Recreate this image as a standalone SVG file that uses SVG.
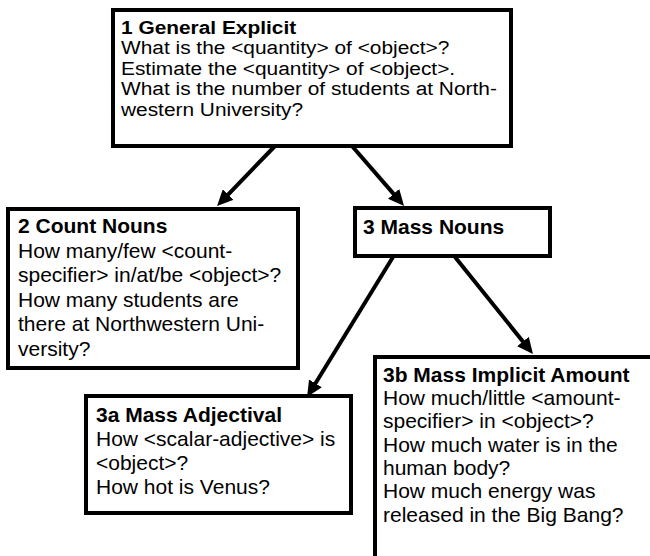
<svg xmlns="http://www.w3.org/2000/svg" width="650" height="556" viewBox="0 0 650 556">
<style>
.box{fill:#fff;stroke:#000;stroke-width:4}
text{font-family:"Liberation Sans",Arial,sans-serif;font-size:21px;fill:#000}
.s text{font-size:18px}
.t{font-weight:bold}
.edge{stroke:#000;stroke-width:4;fill:none;marker-end:url(#ah)}
</style>
<defs>
<marker id="ah" markerUnits="userSpaceOnUse" markerWidth="16" markerHeight="15" viewBox="0 0 16 15" refX="6" refY="7.5" orient="auto">
<path d="M0,0 L16,7.5 L0,15 z" fill="#000"/>
</marker>
</defs>
<rect width="650" height="556" fill="#fff"/>
<g id="connectors">
<line class="edge" x1="275" y1="146" x2="224" y2="198.8"/>
<line class="edge" x1="352" y1="146" x2="397.5" y2="198.4"/>
<line class="edge" x1="393" y1="257" x2="312.3" y2="388.5"/>
<line class="edge" x1="455" y1="257" x2="526.7" y2="346.2"/>
</g>
<g id="n1">
<rect class="box" x="113" y="10" width="398" height="136"/>
<g class="s" transform="matrix(1.16,0,0,1,-19.36,0)">
<text class="t" x="121" y="34">1 General Explicit</text>
<text x="121" y="54.5">What is the &lt;quantity&gt; of &lt;object&gt;?</text>
<text x="121" y="75">Estimate the &lt;quantity&gt; of &lt;object&gt;.</text>
<text x="121" y="95.5">What is the number of students at North-</text>
<text x="121" y="116">western University?</text>
</g>
</g>
<g id="n2">
<rect class="box" x="8" y="209" width="290" height="159"/>
<text class="t" x="18" y="233.3">2 Count Nouns</text>
<text x="18" y="257.7">How many/few &lt;count-</text>
<text x="18" y="282.2">specifier&gt; in/at/be &lt;object&gt;?</text>
<text x="18" y="306.7">How many students are</text>
<text x="18" y="331.2">there at Northwestern Uni-</text>
<text x="18" y="355.5">versity?</text>
</g>
<g id="n3">
<rect class="box" x="355" y="208" width="195" height="48"/>
<text class="t" x="363" y="234">3 Mass Nouns</text>
</g>
<g id="n3a">
<rect class="box" x="86" y="396" width="265" height="117"/>
<text class="t" x="96" y="421.5">3a Mass Adjectival</text>
<text x="96" y="445.5">How &lt;scalar-adjective&gt; is</text>
<text x="96" y="469.5">&lt;object&gt;?</text>
<text x="96" y="493.5">How hot is Venus?</text>
</g>
<g id="n3b">
<rect class="box" x="375" y="357" width="290" height="220"/>
<text class="t" x="383" y="381.7">3b Mass Implicit Amount</text>
<text x="383" y="405">How much/little &lt;amount-</text>
<text x="383" y="428.3">specifier&gt; in &lt;object&gt;?</text>
<text x="383" y="451.7">How much water is in the</text>
<text x="383" y="475">human body?</text>
<text x="383" y="498.3">How much energy was</text>
<text x="383" y="521.7">released in the Big Bang?</text>
</g>
</svg>
